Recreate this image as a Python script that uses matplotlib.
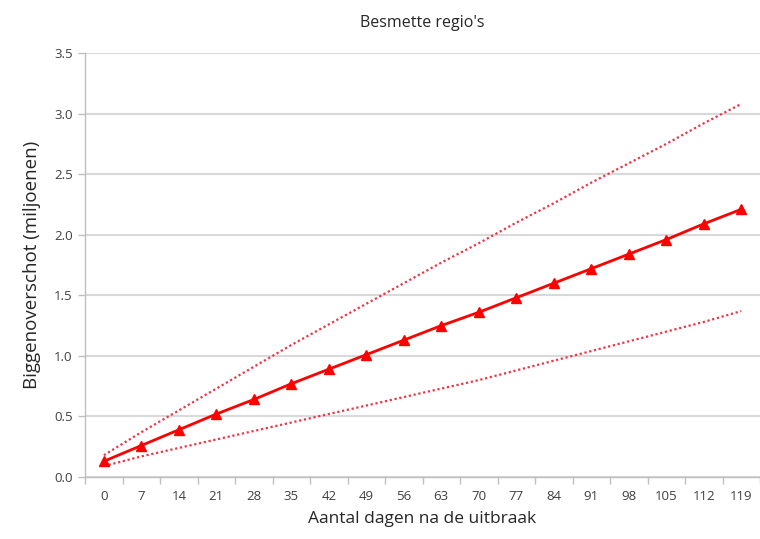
import matplotlib
matplotlib.use("Agg")
import matplotlib.pyplot as plt
import numpy as np

days = [0, 7, 14, 21, 28, 35, 42, 49, 56, 63, 70, 77, 84, 91, 98, 105, 112, 119]
mid = [0.13, 0.26, 0.39, 0.52, 0.64, 0.77, 0.89, 1.01, 1.13, 1.25, 1.36, 1.48, 1.60, 1.72, 1.84, 1.96, 2.09, 2.21]
upper = [0.18, 0.37, 0.55, 0.73, 0.91, 1.09, 1.26, 1.43, 1.60, 1.77, 1.93, 2.10, 2.26, 2.43, 2.59, 2.75, 2.92, 3.08]
lower = [0.09, 0.17, 0.24, 0.31, 0.38, 0.45, 0.52, 0.59, 0.66, 0.73, 0.80, 0.88, 0.96, 1.04, 1.12, 1.20, 1.28, 1.37]
yticks = [0.0, 0.5, 1.0, 1.5, 2.0, 2.5, 3.0, 3.5]

plt.rcParams['font.family'] = ['Open Sans', 'DejaVu Sans']

fig = plt.figure(figsize=(7.6, 5.39), dpi=100)
ax = fig.add_axes([0.112, 0.115, 0.888, 0.7866])

x = np.arange(len(days))
ax.plot(x, upper, linestyle=(0, (1, 1.2)), color='#ec3545', lw=1.6, zorder=3)
ax.plot(x, lower, linestyle=(0, (1, 1.2)), color='#ec3545', lw=1.6, zorder=3)
ax.plot(x, mid, color='#ff0000', lw=2, marker='^', markersize=7, zorder=4)

ax.set_xlim(-0.5, len(days) - 0.5)
ax.set_ylim(0, 3.5)
ax.set_yticks(yticks)
ax.set_yticklabels([f"{v:.1f}" for v in yticks], fontsize=9.5, color='#404040')
ax.set_xticks(x)
ax.set_xticklabels([str(d) for d in days], fontsize=9.5, color='#404040')
ax.set_xticks(np.arange(-0.5, len(days) + 0.5, 1), minor=True)
ax.tick_params(axis='x', which='major', length=0, pad=9)
ax.tick_params(axis='x', which='minor', length=5, color='#bfbfbf', width=1)
ax.tick_params(axis='y', length=5, color='#bfbfbf', width=1, pad=4)

ax.grid(axis='y', color='#d9d9d9', lw=1.5, zorder=0)
ax.set_axisbelow(True)
for s in ['top', 'right']:
    ax.spines[s].set_visible(False)
for s in ['left', 'bottom']:
    ax.spines[s].set_color('#bfbfbf')
    ax.spines[s].set_linewidth(1)

ax.set_title("Besmette regio's", fontsize=11.5, pad=19, color='#262626')
ax.set_xlabel("Aantal dagen na de uitbraak", fontsize=12.5, labelpad=6, color='#262626')
ax.set_ylabel("Biggenoverschot (miljoenen)", fontsize=13.5, labelpad=9, color='#262626')

fig.savefig("out.png", dpi=100)
